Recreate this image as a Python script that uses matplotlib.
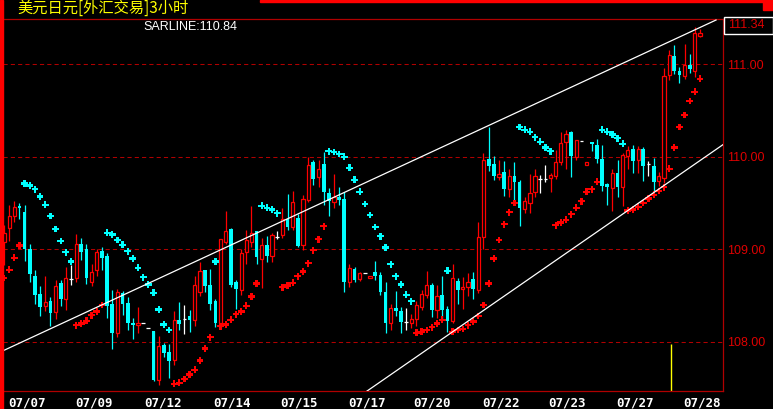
import numpy as np
import matplotlib.pyplot as plt
from matplotlib.patches import Rectangle

# 3-hour bars, USD/JPY
opens = [109.08, 109.23, 109.36, 109.47, 109.40, 109.00, 108.71, 108.52, 108.39, 108.44,
         108.32, 108.64, 108.46, 108.68, 108.69, 109.06, 109.00, 108.65, 108.78, 108.98,
         108.93, 108.41, 108.10, 108.53, 108.42, 108.20, 108.18, 108.20, 108.15, 108.12,
         107.59, 107.97, 107.89, 107.81, 108.24, 108.25, 108.28, 108.24, 108.54, 108.78,
         108.62, 108.44, 108.20, 109.08, 109.22, 108.65, 108.56, 108.97, 109.08, 109.20,
         108.90, 109.05, 108.93, 109.13, 109.15, 109.33, 109.24, 109.34, 109.05, 109.53,
         109.94, 109.78, 109.92, 109.61, 109.51, 109.57, 109.54, 108.65, 108.79, 108.68,
         108.74, 108.69, 108.75, 108.72, 108.54, 108.20, 108.37, 108.33, 108.22, 108.21,
         108.25, 108.38, 108.51, 108.61, 108.34, 108.51, 108.36, 108.23, 108.66, 108.57,
         108.59, 108.68, 108.56, 109.13, 109.97, 109.92, 109.78, 109.84, 109.65, 109.79,
         109.73, 109.43, 109.50, 109.62, 109.76, 109.76, 109.77, 109.79, 109.94, 110.16,
         110.27, 110.00, 110.17, 109.91, 110.16, 110.13, 109.97, 109.70, 109.66, 109.82,
         109.67, 110.01, 110.08, 109.96, 110.08, 109.92, 109.90, 109.74, 109.77, 110.88,
         111.09, 110.93, 110.87, 110.99, 110.93, 111.30]
highs = [109.26, 109.48, 109.52, 109.50, 109.48, 109.06, 108.78, 108.60, 108.71, 108.49,
         108.67, 108.67, 108.81, 108.83, 109.17, 109.12, 109.06, 108.84, 109.00, 109.02,
         108.96, 108.56, 108.57, 108.55, 108.49, 108.26, 108.38, 108.20, 108.15, 108.12,
         108.07, 107.99, 107.98, 108.33, 108.43, 108.40, 108.35, 108.71, 108.86, 108.78,
         108.79, 108.46, 109.11, 109.41, 109.23, 108.67, 109.00, 109.21, 109.47, 109.20,
         109.12, 109.14, 109.18, 109.20, 109.45, 109.60, 109.63, 109.38, 109.59, 110.00,
         109.96, 109.96, 110.05, 109.66, 109.81, 109.67, 109.62, 108.84, 108.81, 108.76,
         108.74, 108.71, 108.87, 108.76, 108.65, 108.41, 108.55, 108.38, 108.37, 108.30,
         108.44, 108.56, 108.77, 108.64, 108.61, 108.71, 108.39, 108.84, 108.69, 108.70,
         108.74, 108.76, 109.30, 110.04, 110.32, 110.01, 109.96, 109.95, 109.87, 109.94,
         109.75, 109.56, 109.81, 109.87, 109.80, 109.91, 109.82, 110.07, 110.27, 110.29,
         110.28, 110.18, 110.17, 109.94, 110.16, 110.19, 110.13, 109.72, 109.87, 109.96,
         110.04, 110.12, 110.13, 110.12, 110.10, 109.95, 109.99, 109.84, 110.96, 111.15,
         111.21, 110.97, 111.22, 111.11, 111.40, 111.38]
lows = [108.83, 109.09, 109.30, 109.33, 108.87, 108.65, 108.41, 108.28, 108.33, 108.17,
        108.25, 108.39, 108.35, 108.61, 108.65, 108.88, 108.63, 108.60, 108.71, 108.78,
        108.26, 107.92, 108.05, 108.29, 108.13, 108.03, 108.10, 108.20, 108.15, 107.58,
        107.54, 107.84, 107.61, 107.75, 108.13, 108.09, 108.11, 108.17, 108.50, 108.54,
        108.35, 108.16, 108.15, 109.06, 108.59, 108.36, 108.51, 108.84, 109.03, 108.84,
        108.58, 108.86, 108.86, 109.11, 109.12, 109.21, 109.21, 109.03, 108.99, 109.51,
        109.69, 109.67, 109.48, 109.36, 109.45, 109.48, 108.54, 108.59, 108.65, 108.66,
        108.74, 108.69, 108.67, 108.51, 108.10, 108.13, 108.28, 108.10, 108.13, 108.15,
        108.17, 108.34, 108.47, 108.27, 108.26, 108.25, 108.11, 108.20, 108.41, 108.36,
        108.50, 108.46, 108.53, 109.00, 109.85, 109.75, 109.75, 109.58, 109.57, 109.52,
        109.25, 109.39, 109.39, 109.57, 109.61, 109.73, 109.62, 109.76, 109.91, 109.87,
        109.78, 109.96, 110.17, 109.91, 110.06, 109.93, 109.63, 109.48, 109.41, 109.57,
        109.47, 109.87, 109.82, 109.82, 109.74, 109.79, 109.63, 109.68, 109.72, 110.83,
        110.89, 110.80, 110.84, 110.90, 110.86, 111.29]
closes = [109.18, 109.36, 109.46, 109.45, 109.00, 108.73, 108.51, 108.38, 108.43, 108.31,
          108.60, 108.46, 108.69, 108.68, 109.06, 108.97, 108.69, 108.75, 108.97, 108.91,
          108.39, 108.10, 108.54, 108.41, 108.20, 108.18, 108.20, 108.20, 108.15, 107.59,
          107.96, 107.88, 107.80, 108.24, 108.19, 108.25, 108.24, 108.61, 108.77, 108.60,
          108.41, 108.20, 109.11, 109.20, 108.62, 108.57, 108.96, 109.10, 109.18, 108.92,
          109.05, 108.93, 109.16, 109.13, 109.33, 109.24, 109.51, 109.04, 109.54, 109.91,
          109.76, 109.87, 109.62, 109.52, 109.56, 109.53, 108.65, 108.80, 108.67, 108.74,
          108.74, 108.71, 108.71, 108.54, 108.20, 108.37, 108.33, 108.22, 108.22, 108.25,
          108.40, 108.52, 108.62, 108.35, 108.50, 108.35, 108.23, 108.69, 108.56, 108.59,
          108.65, 108.57, 109.13, 109.96, 109.90, 109.79, 109.81, 109.65, 109.79, 109.73,
          109.45, 109.52, 109.61, 109.79, 109.76, 109.76, 109.80, 109.94, 110.15, 110.25,
          110.01, 110.18, 110.17, 109.94, 110.14, 109.97, 109.68, 109.67, 109.82, 109.67,
          110.02, 110.07, 109.95, 110.08, 109.90, 109.92, 109.73, 109.79, 110.87, 111.10,
          110.93, 110.88, 110.99, 110.95, 111.33, 111.34]
sar = [108.69, 108.78, 108.91, 109.04, 109.71, 109.69, 109.65, 109.57, 109.48, 109.36,
       109.22, 109.09, 108.97, 108.87, 108.18, 108.20, 108.23, 108.29, 108.33, 108.40,
       109.18, 109.16, 109.10, 109.05, 108.98, 108.90, 108.80, 108.70, 108.62, 108.53,
       108.35, 108.19, 108.13, 107.55, 107.56, 107.60, 107.65, 107.70, 107.80, 107.93,
       108.05, 108.87, 108.17, 108.19, 108.24, 108.30, 108.33, 108.39, 108.49, 108.63,
       109.47, 109.45, 109.43, 109.39, 108.59, 108.61, 108.64, 108.71, 108.76, 108.85,
       108.99, 109.11, 109.25, 110.06, 110.05, 110.03, 110.00, 109.88, 109.75, 109.62,
       109.49, 109.37, 109.24, 109.14, 109.02, 108.84, 108.71, 108.62, 108.51, 108.44,
       108.10, 108.11, 108.13, 108.16, 108.20, 108.24, 108.77, 108.11, 108.13, 108.14,
       108.18, 108.22, 108.28, 108.40, 108.63, 108.90, 109.10, 109.27, 109.40, 109.50,
       110.32, 110.29, 110.27, 110.21, 110.16, 110.10, 110.06, 109.26, 109.29, 109.32,
       109.38, 109.45, 109.52, 109.62, 109.65, 109.73, 110.29, 110.27, 110.24, 110.20,
       110.14, 109.42, 109.43, 109.46, 109.50, 109.55, 109.59, 109.63, 109.67, 109.87,
       110.10, 110.32, 110.45, 110.60, 110.70, 110.84]

date_labels = ["07/07", "07/09", "07/12", "07/14", "07/15", "07/17",
               "07/20", "07/22", "07/23", "07/27", "07/28"]
date_pos = [0.8, 13.8, 27.3, 40.5, 53.5, 66.7, 79.3, 92.7, 105.5, 118.7, 131.7]
price_ticks = [108.0, 109.0, 110.0, 111.0]

# channel lines (bar index, price)
upper_line = ([-0.78, 138.1], [107.89, 111.475])
lower_line = ([70.4, 139.45], [107.47, 110.13])
marker_bar = (129.4, 107.98)

title = "美元日元[外汇交易]3小时"
sar_text = "SARLINE:110.84"
last_text = "111.34"

W, H = 773, 409
RED = "#ff0000"
DARK = "#b00000"
CYAN = "#00ffff"


def main():
    o = np.array(opens)
    h = np.array(highs)
    l = np.array(lows)
    c = np.array(closes)
    s = np.array(sar)
    x = np.arange(len(o))

    fig = plt.figure(figsize=(W / 100, H / 100), dpi=100, facecolor="black")
    ax = fig.add_axes([3 / W, 18 / H, 720 / W, 372 / H], facecolor="black")

    up = c > o
    dn = c < o
    dj = c == o
    bw = 0.72

    # down bars: full wick + filled body
    ax.vlines(x[dn], l[dn], h[dn], color=CYAN, lw=0.9)
    ax.bar(x[dn], (o - c)[dn], bottom=c[dn], width=bw, color=CYAN, lw=0)
    # up bars: hollow body, wicks outside the body
    ax.vlines(x[up], c[up], h[up], color=RED, lw=0.9)
    ax.vlines(x[up], l[up], o[up], color=RED, lw=0.9)
    ax.bar(x[up], (c - o)[up], bottom=o[up], width=bw - 0.1,
           facecolor="black", edgecolor=RED, lw=0.9)
    # doji
    ax.vlines(x[dj], l[dj], h[dj], color="white", lw=0.9)
    ax.hlines(c[dj], x[dj] - bw / 2, x[dj] + bw / 2, color="white", lw=0.9)

    # SAR dots
    sar_col = np.where(s > c, CYAN, RED)
    ax.scatter(x, s, c=sar_col, marker="P", s=24, linewidths=0, zorder=4)

    ax.plot(*upper_line, color="white", lw=0.9, zorder=5)
    ax.plot(*lower_line, color="white", lw=0.9, zorder=5)
    ax.vlines(marker_bar[0], 107.0, marker_bar[1], color="#ffff00", lw=1.0)

    ax.set_xlim(-0.19, 139.45)
    ax.set_ylim(107.471, 111.486)

    ax.yaxis.tick_right()
    ax.set_yticks(price_ticks, labels=[f"{v:.2f}" for v in price_ticks])
    ax.tick_params(axis="y", length=0, pad=3, labelcolor="#dd0000", labelsize=9)
    for lab in ax.get_yticklabels():
        lab.set_family(["Liberation Sans Narrow", "Liberation Sans"])
    ax.grid(axis="y", color=DARK, lw=0.75, linestyle=(0, (4, 3)))
    ax.set_axisbelow(True)

    ax.set_xticks(date_pos, labels=date_labels)
    ax.tick_params(axis="x", length=0, pad=4, labelcolor="white", labelsize=9)
    for lab in ax.get_xticklabels():
        lab.set_ha("left")
        lab.set_family("DejaVu Sans Mono")
        lab.set_weight("bold")

    for side in ["top", "bottom", "right"]:
        ax.spines[side].set_color(DARK)
        ax.spines[side].set_linewidth(0.9)
    ax.spines["left"].set_visible(False)

    # frame decorations
    fig.patches.append(Rectangle((0, 0), 3 / W, 1, transform=fig.transFigure,
                                 color=RED, zorder=10))
    fig.patches.append(Rectangle((260 / W, 1 - 2 / H), 1, 2 / H, transform=fig.transFigure,
                                 color=RED, zorder=10))
    fig.patches.append(Rectangle((763 / W, 1 - 10 / H), 10 / W, 10 / H,
                                 transform=fig.transFigure, color=RED, zorder=10))
    fig.patches.append(Rectangle((723.5 / W, 1 - 34 / H), 49 / W, 17 / H,
                                 transform=fig.transFigure, facecolor="black",
                                 edgecolor="white", lw=1, zorder=10))

    fig.text(17 / W, 1 - 8.5 / H, title, color="#ffff00", fontsize=11, va="center",
             family=["Noto Sans CJK SC", "DejaVu Sans"])
    fig.text(143 / W, 1 - 27 / H, sar_text, color="white", fontsize=9, va="center",
             family="Liberation Sans")
    fig.text(728 / W, 1 - 25.5 / H, last_text, color="#dd0000", fontsize=9, va="center",
             family=["Liberation Sans Narrow", "Liberation Sans"], zorder=11)

    fig.savefig("out.png", dpi=100, facecolor="black")


if __name__ == "__main__":
    main()
